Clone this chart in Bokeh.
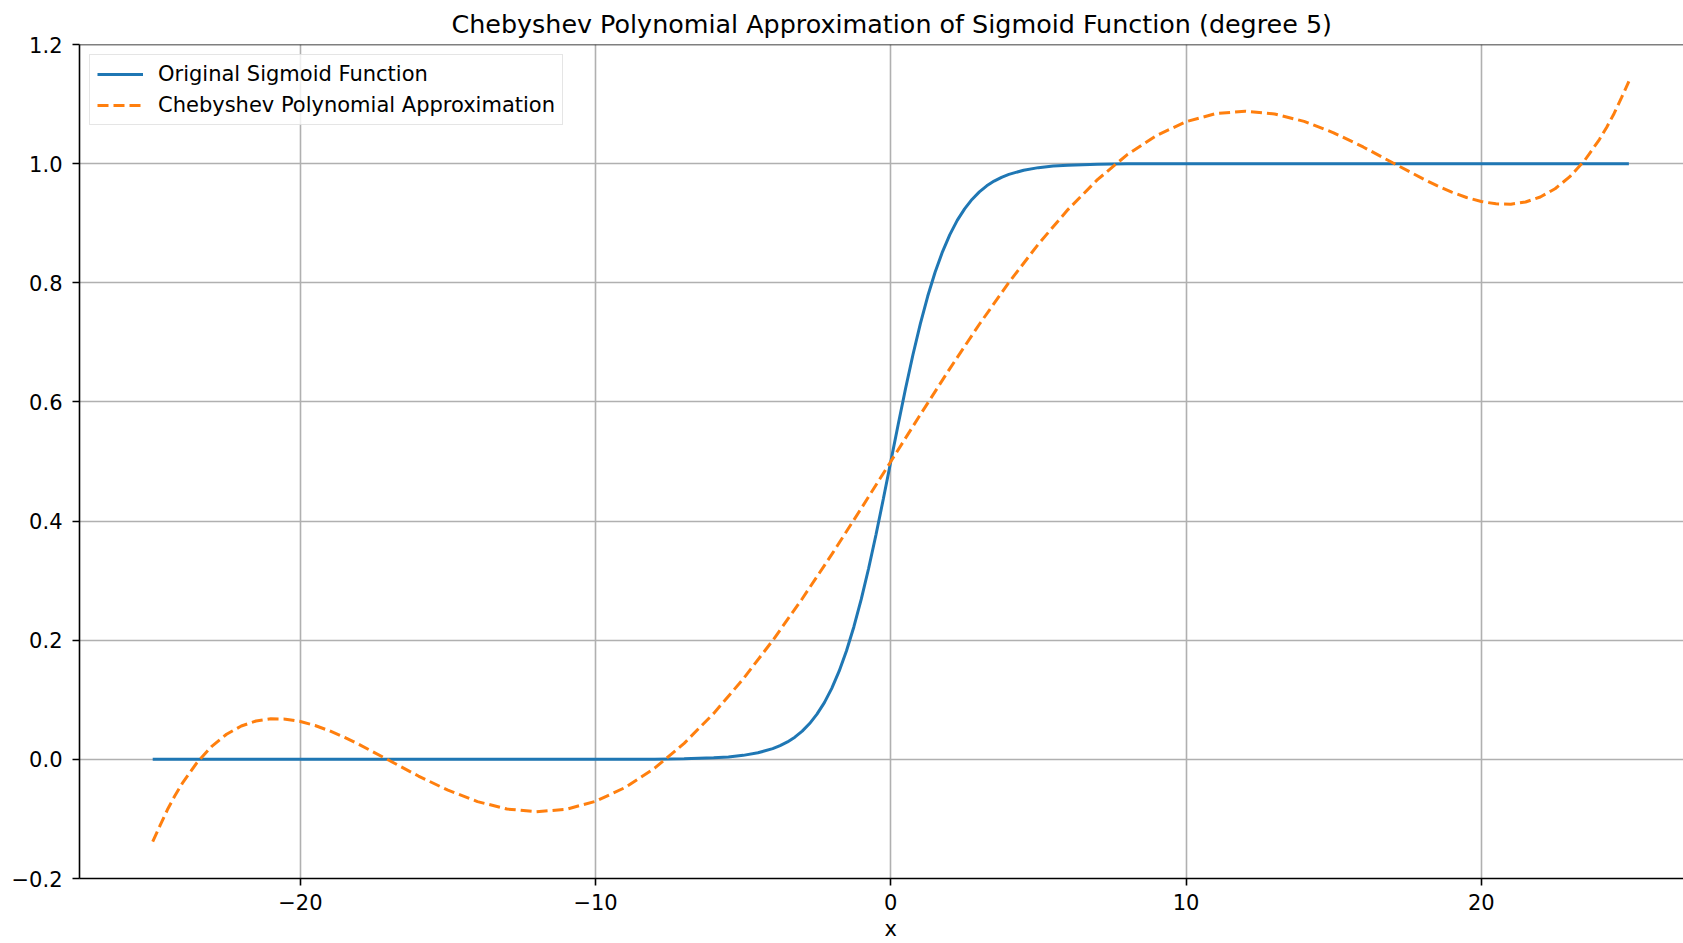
from bokeh.plotting import figure
from bokeh.models import FixedTicker, Span, Legend, LegendItem, ColumnDataSource, Title
from bokeh.embed import file_html
from bokeh.resources import INLINE

# ---- data ----
x_sigmoid = [-25, -20, -15, -10, -8, -7, -6, -5.5, -5, -4.5, -4, -3.75, -3.5, -3.25,
             -3, -2.75, -2.5, -2.25, -2,
             -1.75, -1.5, -1.25, -1, -0.75, -0.5, -0.25, 0,
             0.25, 0.5, 0.75, 1, 1.25, 1.5, 1.75, 2, 2.25, 2.5, 2.75, 3, 3.25,
             3.5, 3.75, 4, 4.5, 5, 5.5,
             6, 7, 8, 10, 15, 20, 25]
y_sigmoid = [0.0, 0.0, 0.0, 0.00005, 0.0003, 0.0009, 0.0025, 0.0041, 0.0067,
             0.0110, 0.0180, 0.0230, 0.0293, 0.0373,
             0.0474, 0.0601, 0.0759, 0.0953, 0.1192,
             0.1480, 0.1824, 0.2227, 0.2689, 0.3208, 0.3775, 0.4378, 0.5,
             0.5622, 0.6225, 0.6792, 0.7311, 0.7773, 0.8176, 0.8520,
             0.8808, 0.9047, 0.9241, 0.9399, 0.9526, 0.9627,
             0.9707, 0.9770, 0.9820, 0.9890, 0.9933, 0.9959,
             0.9975, 0.9991, 0.9997, 0.99995, 1.0, 1.0, 1.0]

x_cheb = [-25, -24.75, -24.5, -24.25, -24, -23.5, -23, -22.5, -22, -21.5, -21,
          -20.5, -20, -19.5, -19, -18.5, -18, -17, -16, -15, -14, -13,
          -12, -11, -10, -9, -8, -7, -6, -5, -4, -3, -2, -1, 0,
          1, 2, 3, 4, 5, 6, 7, 8, 9, 10, 11, 12, 13, 14, 15, 16, 17, 18,
          18.5, 19, 19.5, 20, 20.5, 21, 21.5, 22, 22.5, 23, 23.5, 24,
          24.25, 24.5, 24.75, 25]
y_cheb = [-0.1380, -0.1109, -0.0843, -0.0612, -0.0404, -0.0053, 0.0219, 0.0421,
          0.0560, 0.0644, 0.0680,
          0.0675, 0.0636, 0.0568, 0.0477, 0.0369, 0.0248, -0.0015, -0.0280,
          -0.0518, -0.0709, -0.0834,
          -0.0880, -0.0839, -0.0704, -0.0473, -0.0148, 0.0269, 0.0771, 0.1349,
          0.1995, 0.2696, 0.3440, 0.4213, 0.5,
          0.5787, 0.6560, 0.7304, 0.8005, 0.8651, 0.9229, 0.9731, 1.0148,
          1.0473, 1.0704, 1.0839, 1.0880, 1.0834, 1.0709, 1.0518, 1.0280,
          1.0015, 0.9752,
          0.9631, 0.9523, 0.9432, 0.9364, 0.9325, 0.9320, 0.9356, 0.9440,
          0.9579, 0.9781, 1.0053, 1.0404,
          1.0612, 1.0843, 1.1109, 1.1380]

x_ticks = [-20, -10, 0, 10, 20]
x_tick_labels = ["\u221220", "\u221210", "0", "10", "20"]
y_ticks = [-0.2, 0.0, 0.2, 0.4, 0.6, 0.8, 1.0, 1.2]
y_tick_labels = ["\u22120.2", "0.0", "0.2", "0.4", "0.6", "0.8", "1.0", "1.2"]

title_text = "Chebyshev Polynomial Approximation of Sigmoid Function (degree 5)"
x_label = "x"
series_names = ["Original Sigmoid Function", "Chebyshev Polynomial Approximation"]

FONT = "DejaVu Sans"

p = figure(width=1683, height=943, x_range=(-27.48, 26.85), y_range=(-0.2, 1.2),
           output_backend="svg", toolbar_location=None,
           min_border_left=79, min_border_right=0, min_border_top=44,
           min_border_bottom=65, title=title_text)
p.outline_line_color = None
p.background_fill_color = "white"
p.border_fill_color = "white"

p.title.text_font = FONT
p.title.text_font_size = "25.4px"
p.title.text_font_style = "normal"
p.title.text_color = "black"
p.title.align = "left"
p.title.offset = 372
p.title.standoff = 12

for ax in (p.xaxis[0], p.yaxis[0]):
    ax.major_label_text_font = FONT
    ax.major_label_text_font_size = "21px"
    ax.major_label_text_color = "black"
    ax.axis_line_color = "black"
    ax.axis_line_width = 1.6
    ax.major_tick_line_color = "black"
    ax.major_tick_line_width = 1.6
    ax.major_tick_out = 7
    ax.major_tick_in = 0
    ax.minor_tick_line_color = None

p.xaxis.ticker = FixedTicker(ticks=x_ticks)
p.yaxis.ticker = FixedTicker(ticks=y_ticks)
p.xaxis.major_label_overrides = dict(zip(x_ticks, x_tick_labels))
p.yaxis.major_label_overrides = dict(zip(y_ticks, y_tick_labels))
p.xaxis.major_label_standoff = 8
p.yaxis.major_label_standoff = 10

# x-axis label as a title placed below, centred on x = 0 like the reference
xlabel_title = Title(text=x_label, align="left", offset=805, standoff=5,
                     text_font=FONT, text_font_size="21px", text_font_style="normal",
                     text_color="black")
p.add_layout(xlabel_title, "below")

p.grid.grid_line_color = "#b0b0b0"
p.grid.grid_line_width = 1.6

top_spine = Span(location=y_ticks[-1], dimension="width", line_color="black", line_width=1.6)
p.add_layout(top_spine)

src_sig = ColumnDataSource(dict(x=x_sigmoid, y=y_sigmoid))
src_cheb = ColumnDataSource(dict(x=x_cheb, y=y_cheb))
r1 = p.line("x", "y", source=src_sig, line_color="#1f77b4", line_width=3)
r2 = p.line("x", "y", source=src_cheb, line_color="#ff7f0e", line_width=3,
            line_dash="11 5")

legend = Legend(items=[LegendItem(label=series_names[0], renderers=[r1]),
                       LegendItem(label=series_names[1], renderers=[r2])],
                location="top_left")
legend.margin = 10
legend.padding = 7
legend.spacing = 7
legend.glyph_width = 46
legend.glyph_height = 20
legend.label_height = 20
legend.label_standoff = 15
legend.label_text_font = FONT
legend.label_text_font_size = "21px"
legend.label_text_color = "black"
legend.border_line_color = "#cccccc"
legend.border_line_width = 1.6
legend.background_fill_color = "white"
legend.background_fill_alpha = 0.8
p.add_layout(legend)

open("out.html", "w").write(file_html(p, INLINE))
